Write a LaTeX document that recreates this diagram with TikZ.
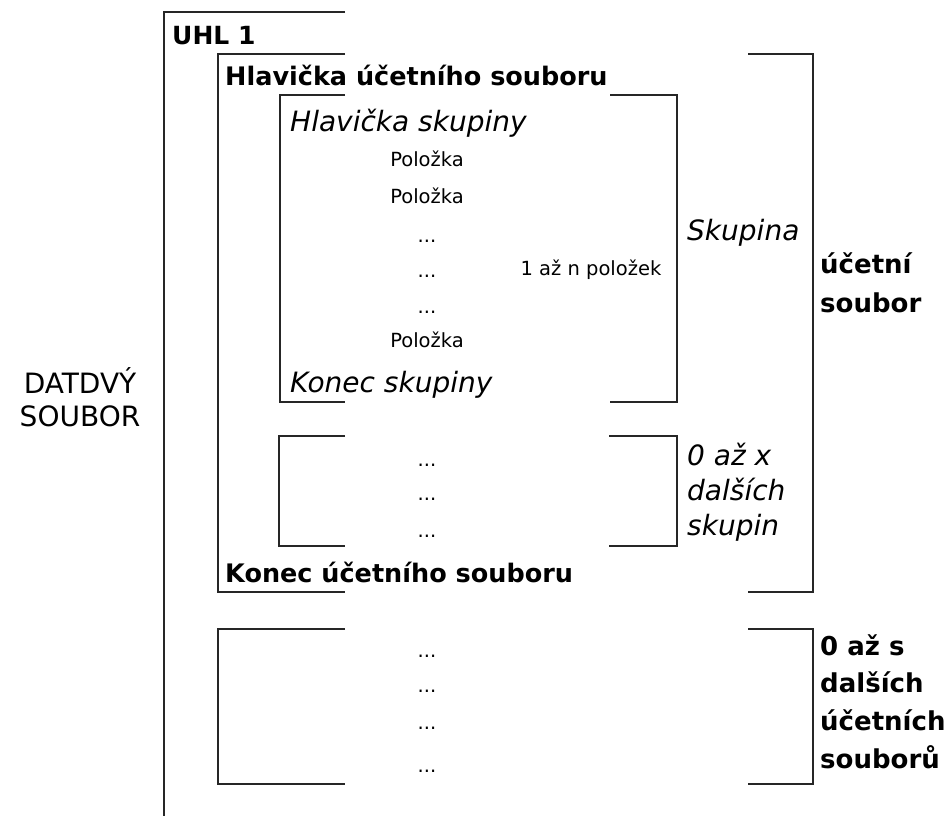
\documentclass[tikz,border=0pt]{standalone}
\usepackage{fontspec}
\setmainfont{DejaVu Sans}

\newcommand{\tridot}{...}

\begin{document}
\begin{tikzpicture}[
  x=1pt, y=-1pt,
  inner sep=0pt,
  brk/.style   = {draw=black!85, line width=2.4pt},
  head/.style  = {anchor=base west, font=\bfseries\fontsize{25.5}{30}\selectfont},
  grp/.style   = {anchor=base west, font=\itshape\fontsize{28}{32}\selectfont},
  side/.style  = {anchor=base west, font=\bfseries\fontsize{26}{32}\selectfont},
  item/.style  = {anchor=base, font=\fontsize{19.5}{22}\selectfont},
  plain/.style = {anchor=base, font=\fontsize{28}{32}\selectfont},
]

% ── Page frame (pixel grid, y grows downwards) ─────────────────────────────
\useasboundingbox (0,0) rectangle (950,816);

% ── UHL 1: the whole data file ─────────────────────────────────────────────
\draw[brk] (345,12) -| (164,816);
\node[head, font=\bfseries\fontsize{25}{30}\selectfont] (uhl) at (172,45) {UHL 1};

\node[plain] (datA) at (80,393) {DATDVÝ};
\node[plain] (datB) at (80,426) {SOUBOR};

% ── Účetní soubor ──────────────────────────────────────────────────────────
\draw[brk] (345,54) -| (218,592) -- (345,592);
\draw[brk] (748,54) -| (813,592) -- (748,592);

\node[head] (accHead) at (225,85)  {Hlavička účetního souboru};
\node[head] (accEnd)  at (225,582) {Konec účetního souboru};

\node[side] (accA) at (820,273) {účetní};
\node[side] (accB) at (820,312) {soubor};

% ── Skupina ────────────────────────────────────────────────────────────────
\draw[brk] (345,95) -| (280,402) -- (345,402);
\draw[brk] (610,95) -| (677,402) -- (610,402);

\node[grp] (grpHead) at (290,131) {Hlavička skupiny};
\node[grp] (grpEnd)  at (290,392) {Konec skupiny};
\node[grp] (grpName) at (687,240) {Skupina};

% items of one group
\foreach \t/\y in {Položka/166, Položka/203, \tridot/242, \tridot/277,
                   \tridot/313, Položka/347}
  \node[item] (itm\y) at (427,\y) {\t};

\node[item] (itmCount) at (591,275) {1 až n položek};

% ── 0 až x dalších skupin ──────────────────────────────────────────────────
\draw[brk] (345,436) -| (279,546) -- (345,546);
\draw[brk] (609,436) -| (677,546) -- (609,546);

\foreach \y in {466,500,537}
  \node[item] (grpDots\y) at (427,\y) {\tridot};

\foreach \t/\y in {0 až x/465, dalších/500, skupin/535}
  \node[grp] (grpMore\y) at (687,\y) {\t};

% ── 0 až s dalších účetních souborů ────────────────────────────────────────
\draw[brk] (345,629) -| (218,784) -- (345,784);
\draw[brk] (748,629) -| (813,784) -- (748,784);

\foreach \y in {657,692,729,772}
  \node[item] (accDots\y) at (427,\y) {\tridot};

\foreach \t/\y in {0 až s/655, dalších/692, účetních/730, souborů/768}
  \node[side] (accMore\y) at (820,\y) {\t};

\end{tikzpicture}
\end{document}
